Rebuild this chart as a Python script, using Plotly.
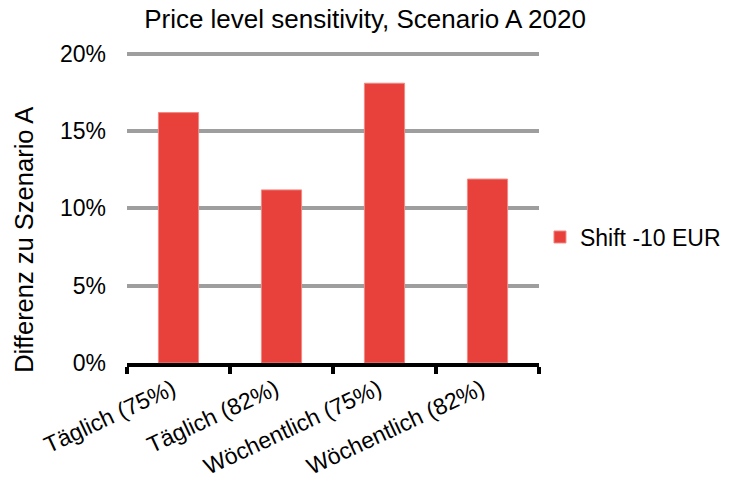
import plotly.graph_objects as go

categories = ["Täglich (75%)", "Täglich (82%)", "Wöchentlich (75%)", "Wöchentlich (82%)"]
values = [0.162, 0.112, 0.181, 0.119]
series_name = "Shift -10 EUR"
y_ticks = [0, 0.05, 0.10, 0.15, 0.20]
y_tick_labels = ["0%", "5%", "10%", "15%", "20%"]
y_title = "Differenz zu Szenario A"
chart_title = "Price level sensitivity, Scenario A 2020"

FONT = "Liberation Sans, Arial, sans-serif"

fig = go.Figure()
fig.add_trace(go.Bar(
    x=categories, y=values, name=series_name,
    marker=dict(color="#E8403A", line=dict(color="#F08A84", width=1)),
    showlegend=True,
))

fig.add_annotation(
    text=y_title, textangle=-90, xref="paper", yref="paper",
    x=-0.25, y=0.396, xanchor="center", yanchor="middle", showarrow=False,
    font=dict(size=25.5, family=FONT, color="black"),
)

fig.update_layout(
    width=730, height=489,
    margin=dict(l=127, r=191, t=52, b=126),
    paper_bgcolor="white", plot_bgcolor="white",
    bargap=0.61,
    font=dict(family=FONT, color="black", size=23),
    title=dict(text=chart_title, x=0.5, xanchor="center",
               y=0.962, yanchor="middle", font=dict(size=26, family=FONT, color="black")),
    showlegend=True,
    legend=dict(xref="container", x=0.7397, xanchor="left",
                yref="paper", y=0.405, yanchor="middle",
                font=dict(size=23, family=FONT, color="black"),
                bgcolor="rgba(0,0,0,0)"),
    xaxis=dict(
        type="category",
        showline=True, linecolor="black", linewidth=4,
        ticks="outside", tickson="boundaries", ticklen=7, tickwidth=4, tickcolor="black",
        tickangle=-25, tickfont=dict(size=23, family=FONT, color="black"),
        ticklabelshift=-6,
        showgrid=False, range=[-0.5, 3.5], automargin=False,
    ),
    yaxis=dict(
        range=[0, 0.2012], tickvals=y_ticks, ticktext=y_tick_labels,
        showgrid=True, gridcolor="#9E9E9E", gridwidth=4,
        zeroline=False, showline=False, ticks="",
        ticklabelstandoff=20,
        tickfont=dict(size=23, family=FONT, color="black"),
        automargin=False,
    ),
)

fig.write_html("out.html", config={"displayModeBar": False},
               post_script="document.body.style.margin='0px';")
